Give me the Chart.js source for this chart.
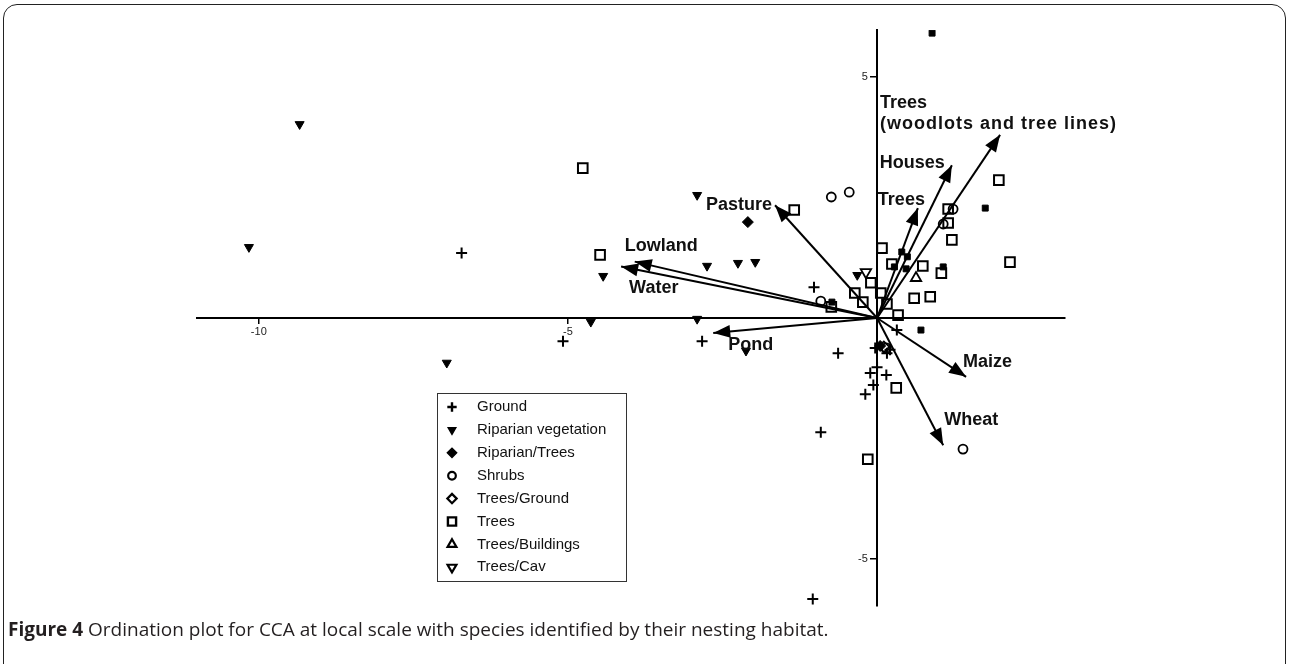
<!DOCTYPE html>
<html>
<head>
<meta charset="utf-8">
<script src="https://cdn.jsdelivr.net/npm/chart.js@4.4.0/dist/chart.umd.min.js"></script>
<style>
  html, body { margin: 0; padding: 0; background: #fff; overflow: hidden; }
  #frame { position: absolute; left: 3px; top: 4px; width: 1281px; height: 720px; border: 1.5px solid #222; border-radius: 14px; }
  #plot { position: absolute; left: 0; top: 0; }
  #caption { position: absolute; left: 8px; top: 616px; font-family: 'Open Sans', sans-serif; font-size: 19px; color: #231f20; white-space: nowrap; }
</style>
</head>
<body>
<div id="frame"></div>
<canvas id="plot" width="1289" height="664"></canvas>
<div id="caption"><b>Figure 4</b> Ordination plot for CCA at local scale with species identified by their nesting habitat.</div>
<script>
// categories (nesting habitat), as in the legend
const habitats = ['Ground', 'Riparian vegetation', 'Riparian/Trees', 'Shrubs', 'Trees/Ground', 'Trees', 'Trees/Buildings', 'Trees/Cav'];

// species scores [axis 1, axis 2] per habitat
const ground = [[-6.72, 1.35], [-5.08, -0.48], [-2.83, -0.48], [-1.02, 0.64], [-0.63, -0.73], [-0.91, -2.37], [-1.04, -5.83],
    [0.32, -0.25], [-0.03, -0.62], [0.16, -0.73], [0.21, -0.66], [0.0, -1.02], [-0.11, -1.14], [0.15, -1.18], [-0.06, -1.39], [-0.19, -1.58]];
const riparianVegetation = [[-9.34, 4.02], [-10.16, 1.47], [-6.96, -0.93], [-4.43, 0.87], [-4.63, -0.08], [-2.91, 2.55], [-2.91, -0.02],
    [-2.75, 1.08], [-2.25, 1.14], [-1.97, 1.16], [-2.12, -0.68], [-0.32, 0.89]];
const riparianTrees = [[-2.09, 1.99], [0.05, -0.58]];
const shrubs = [[-0.74, 2.51], [-0.45, 2.61], [-0.91, 0.35], [1.23, 2.26], [1.07, 1.95], [1.39, -2.72], [0.15, -0.62]];
const treesGround = [[0.11, -0.60]];
const trees = [[-4.76, 3.11], [-4.48, 1.31], [-1.34, 2.24], [-0.74, 0.23], [-0.36, 0.52], [-0.23, 0.33], [-0.10, 0.73], [0.08, 1.45],
    [0.06, 0.52], [0.16, 0.29], [0.24, 1.12], [0.34, 0.06], [0.60, 0.41], [0.86, 0.44], [0.74, 1.08], [1.04, 0.93], [1.15, 2.26],
    [1.15, 1.97], [1.21, 1.62], [1.97, 2.86], [2.15, 1.16], [0.31, -1.45], [-0.15, -2.93]];
const treesBuildings = [[0.63, 0.83]];
const treesCav = [[-0.18, 0.95]];
// small filled squares that have no legend entry
const unlisted = [[0.89, 5.91], [1.75, 2.28], [0.40, 1.37], [0.49, 1.27], [0.28, 1.06], [0.47, 1.02], [1.07, 1.06], [0.71, -0.25], [-0.73, 0.33]];

// environmental vectors (arrow tips)
const vectorNames = ['Trees\n(woodlots and tree lines)', 'Houses', 'Trees', 'Pasture', 'Lowland', 'Water', 'Pond', 'Maize', 'Wheat'];
const vectorX = [1.99, 1.21, 0.66, -1.65, -3.92, -4.14, -2.65, 1.44, 1.07];
const vectorY = [3.80, 3.17, 2.28, 2.34, 1.17, 1.07, -0.31, -1.22, -2.64];

// axis ticks
const xTickValues = [-10, -5];
const yTickValues = [-5, 5];

const habitatPoints = [ground, riparianVegetation, riparianTrees, shrubs, treesGround, trees, treesBuildings, treesCav];

// marker look per habitat
const markers = [
    { pointStyle: 'cross', radius: 5.5, rotation: 0, filled: false, borderWidth: 2 },
    { pointStyle: 'triangle', radius: 5.2, rotation: 180, filled: true, borderWidth: 1 },
    { pointStyle: 'rectRot', radius: 5.5, rotation: 0, filled: true, borderWidth: 1 },
    { pointStyle: 'circle', radius: 4.5, rotation: 0, filled: false, borderWidth: 1.8 },
    { pointStyle: 'rectRot', radius: 5.5, rotation: 0, filled: false, borderWidth: 1.8 },
    { pointStyle: 'rect', radius: 6.8, rotation: 0, filled: false, borderWidth: 2 },
    { pointStyle: 'triangle', radius: 6, rotation: 0, filled: false, borderWidth: 1.8 },
    { pointStyle: 'triangle', radius: 6, rotation: 180, filled: false, borderWidth: 1.8 }
];

// where each vector label sits, in pixels from the arrow tip
const labelOffsets = [
    { dx: -120, dy: -32, align: 'left' },
    { dx: -72, dy: -2, align: 'left' },
    { dx: -40, dy: -8, align: 'left' },
    { dx: -3, dy: 0, align: 'right' },
    { dx: -10, dy: -16, align: 'left' },
    { dx: 8, dy: 22, align: 'left' },
    { dx: 15, dy: 12, align: 'left' },
    { dx: -3, dy: -15, align: 'left' },
    { dx: 1, dy: -25, align: 'left' }
];

const toXY = (pairs) => pairs.map((p) => ({ x: p[0], y: p[1] }));

const datasets = [];

habitatPoints.forEach((pts, i) => {
    const m = markers[i];
    datasets.push({
        label: habitats[i],
        data: toXY(pts),
        pointStyle: m.pointStyle,
        pointRadius: m.radius,
        pointRotation: m.rotation,
        pointBorderWidth: m.borderWidth,
        pointBorderColor: '#000',
        pointBackgroundColor: m.filled ? '#000' : 'rgba(0,0,0,0)',
        showLine: false,
        order: 1
    });
});

datasets.push({
    label: 'unlisted',
    data: toXY(unlisted),
    pointStyle: 'rect',
    pointRadius: 4.2,
    pointBorderWidth: 1,
    pointBorderColor: '#000',
    pointBackgroundColor: '#000',
    showLine: false,
    order: 1
});

// each vector is a two point line from the origin
vectorNames.forEach((name, i) => {
    datasets.push({
        label: name,
        data: [{ x: 0, y: 0 }, { x: vectorX[i], y: vectorY[i] }],
        showLine: true,
        borderColor: '#000',
        borderWidth: 2,
        pointRadius: 0,
        order: 5
    });
});

const arrowPlugin = {
    id: 'arrowPlugin',
    afterDatasetsDraw(chart) {
        const ctx = chart.ctx;
        const xs = chart.scales.x;
        const ys = chart.scales.y;
        const ox = xs.getPixelForValue(0);
        const oy = ys.getPixelForValue(0);
        ctx.save();
        vectorNames.forEach((name, i) => {
            const tx = xs.getPixelForValue(vectorX[i]);
            const ty = ys.getPixelForValue(vectorY[i]);
            const ang = Math.atan2(ty - oy, tx - ox);
            const len = 17;
            const half = 6.5;
            const bx = tx - Math.cos(ang) * len;
            const by = ty - Math.sin(ang) * len;
            ctx.beginPath();
            ctx.moveTo(tx, ty);
            ctx.lineTo(bx + Math.sin(ang) * half, by - Math.cos(ang) * half);
            ctx.lineTo(bx - Math.sin(ang) * half, by + Math.cos(ang) * half);
            ctx.closePath();
            ctx.fillStyle = '#000';
            ctx.fill();

            // label
            const off = labelOffsets[i];
            ctx.font = 'bold 18px "Liberation Sans", Arial, sans-serif';
            ctx.fillStyle = '#111';
            ctx.textAlign = off.align;
            ctx.textBaseline = 'middle';
            name.split('\n').forEach((line, k) => {
                ctx.letterSpacing = k > 0 ? '1px' : '0px';
                ctx.fillText(line, tx + off.dx, ty + off.dy + k * 21);
            });
            ctx.letterSpacing = '0px';
        });
        ctx.restore();
    }
};

const legendPlugin = {
    id: 'boxLegend',
    afterDraw(chart, args, opts) {
        const ctx = chart.ctx;
        ctx.save();
        ctx.strokeStyle = '#333';
        ctx.lineWidth = 1;
        ctx.strokeRect(opts.left + 0.5, opts.top + 0.5, opts.width, opts.height);
        ctx.font = '15px "Liberation Sans", Arial, sans-serif';
        ctx.textAlign = 'left';
        ctx.textBaseline = 'middle';
        habitats.forEach((name, i) => {
            const y = opts.firstRow + i * opts.rowGap;
            const m = markers[i];
            ctx.fillStyle = m.filled ? '#000' : 'rgba(0,0,0,0)';
            ctx.strokeStyle = '#000';
            ctx.lineWidth = m.borderWidth + 0.4;
            Chart.helpers.drawPoint(ctx, {
                pointStyle: m.pointStyle,
                radius: m.radius * 0.85,
                rotation: m.rotation,
                borderWidth: m.borderWidth
            }, opts.symbolX, y);
            ctx.fillStyle = '#111';
            ctx.fillText(name, opts.textX, y);
        });
        ctx.restore();
    }
};

const axisFont = { family: '"Liberation Sans", Arial, sans-serif', size: 11 };

const myChart = new Chart(document.getElementById('plot').getContext('2d'), {
    type: 'scatter',
    data: { datasets: datasets },
    options: {
        responsive: false,
        animation: false,
        devicePixelRatio: 1,
        layout: { padding: { left: 197, right: 224, top: 30, bottom: 58 } },
        plugins: {
            legend: { display: false },
            tooltip: { enabled: false },
            boxLegend: { left: 437, top: 393, width: 189, height: 188, firstRow: 407, rowGap: 22.9, symbolX: 452, textX: 477 }
        },
        scales: {
            x: {
                type: 'linear',
                min: -11,
                max: 3.04,
                bounds: 'data',
                position: { y: 0 },
                afterBuildTicks: (scale) => { scale.ticks = xTickValues.map((v) => ({ value: v })); },
                grid: { display: true, drawOnChartArea: false, drawTicks: true, tickLength: 5, color: '#000', lineWidth: 1.5 },
                border: { display: true, color: '#000', width: 2 },
                ticks: { font: axisFont, color: '#222', padding: 2, maxRotation: 0, autoSkip: false }
            },
            y: {
                type: 'linear',
                min: -5.975,
                max: 5.975,
                bounds: 'data',
                position: { x: 0 },
                afterBuildTicks: (scale) => { scale.ticks = yTickValues.map((v) => ({ value: v })); },
                grid: { display: true, drawOnChartArea: false, drawTicks: true, tickLength: 6, color: '#000', lineWidth: 1.5 },
                border: { display: true, color: '#000', width: 2 },
                // labels sit right-aligned on the axis, trailing spaces push them past the tick mark
                ticks: { font: axisFont, color: '#222', padding: 2, autoSkip: false, callback: (v) => v + '   ' }
            }
        }
    },
    plugins: [arrowPlugin, legendPlugin]
});
</script>
</body>
</html>
